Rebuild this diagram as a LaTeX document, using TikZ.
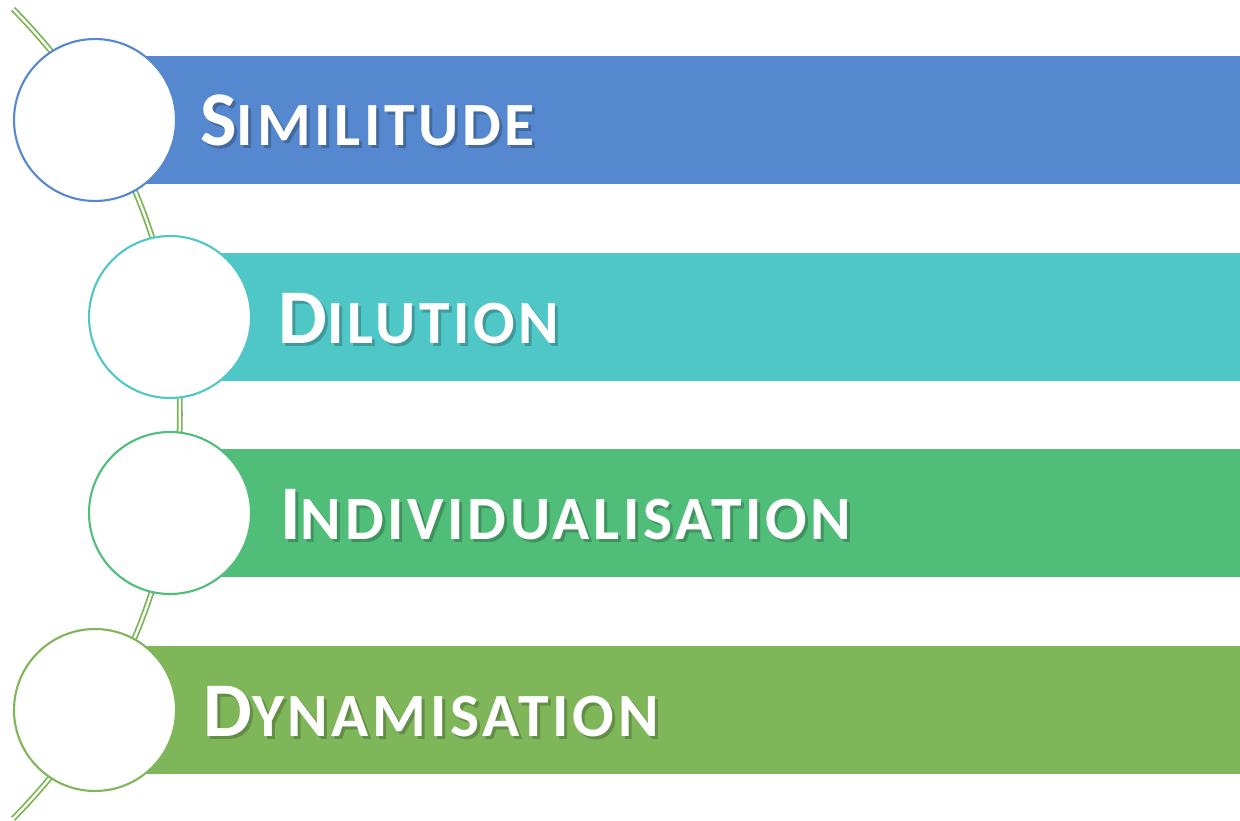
\documentclass[tikz,border=0pt]{standalone}
\usepackage{fontspec}
\setmainfont{Carlito}
\newfontfamily\titlefont[LetterSpace=6]{Carlito}

\definecolor{barblue}{RGB}{85,136,206}
\definecolor{barteal}{RGB}{80,199,199}
\definecolor{barjade}{RGB}{80,190,120}
\definecolor{barleaf}{RGB}{128,182,90}
\definecolor{railgreen}{RGB}{122,180,84}

% capital letter, then the rest in smaller capitals
\newcommand\capword[2]{{\fontsize{44}{45}\selectfont #1}{\fontsize{35}{36}\selectfont #2}}

\tikzset{
    bar/.style={fill=#1, anchor=west, inner sep=0pt, minimum height=2.56cm},
    disc/.style={circle, draw=#1, fill=white, line width=1.2pt, inner sep=0pt, minimum size=3.24cm},
    rail/.style={draw=railgreen, line width=1pt, double=white, double distance=1.3pt},
    bartext/.style={text=white, font=\titlefont\bfseries, anchor=base west, inner sep=0pt},
    barshadow/.style={text=black, opacity=0.22, font=\titlefont\bfseries, anchor=base west, inner sep=0pt},
}

\begin{document}
\begin{tikzpicture}[x=0.02cm, y={(0,-0.02cm)}]
        \useasboundingbox (0,0) rectangle (1240,821);

        % the curved rail behind the circles
        \coordinate (top) at (13,9);
        \draw[rail] (top) arc[start angle=-44.8, end angle=44.8, radius=574.6];

        \node (bar1) [bar=barblue, minimum width=22.9cm] at (95,120) {};
        \node (bar2) [bar=barteal, minimum width=21.4cm] at (170,317) {};
        \node (bar3) [bar=barjade, minimum width=21.4cm] at (170,513) {};
        \node (bar4) [bar=barleaf, minimum width=22.9cm] at (95,710) {};

        \node (c1) [disc=barblue] at (95,120) {};
        \node (c2) [disc=barteal] at (170,317) {};
        \node (c3) [disc=barjade] at (170,513) {};
        \node (c4) [disc=barleaf] at (95,710) {};

        \node (s1) [barshadow] at (203,148) {\capword{S}{IMILITUDE}};
        \node (t1) [bartext] at (200,145) {\capword{S}{IMILITUDE}};
        %
        \node (s2) [barshadow] at (281,346) {\capword{D}{ILUTION}};
        \node (t2) [bartext] at (278,343) {\capword{D}{ILUTION}};
        %
        \node (s3) [barshadow] at (283,542) {\capword{I}{NDIVIDUALISATION}};
        \node (t3) [bartext] at (280,539) {\capword{I}{NDIVIDUALISATION}};
        %
        \node (s4) [barshadow] at (206,739) {\capword{D}{YNAMISATION}};
        \node (t4) [bartext] at (203,736) {\capword{D}{YNAMISATION}};
    \end{tikzpicture}
\end{document}
